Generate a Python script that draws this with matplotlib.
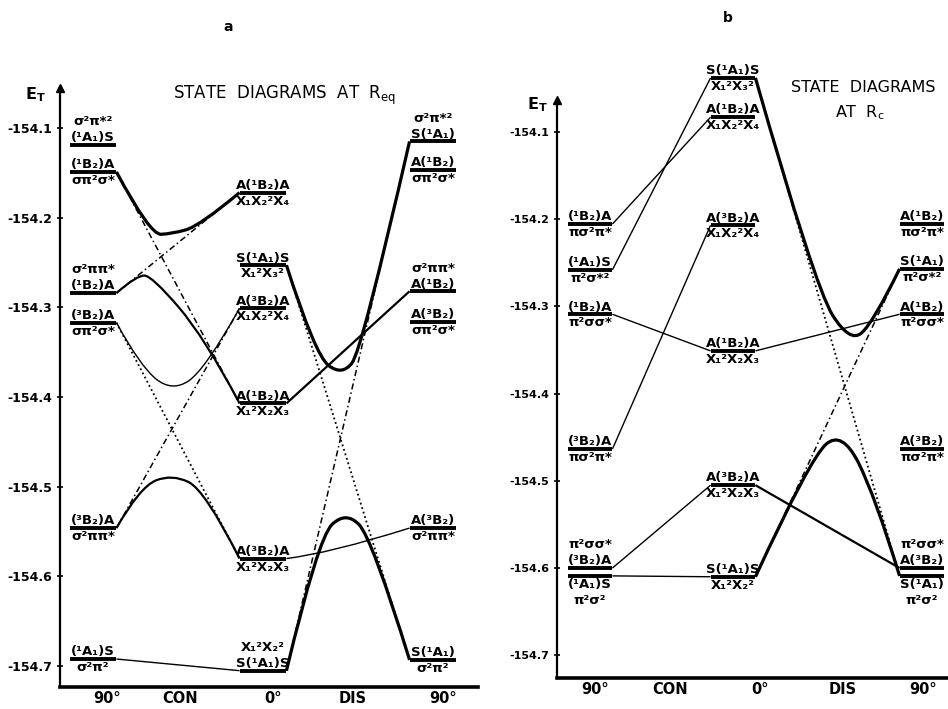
import matplotlib
matplotlib.use('Agg')
import matplotlib.pyplot as plt
from matplotlib.path import Path
from matplotlib.patches import PathPatch

plt.rcParams['font.family'] = ['DejaVu Sans']
plt.rcParams['mathtext.default'] = 'regular'

# ---------------- data: panel a (R_eq) ----------------
a_col_pos = [0.0, 1.0, 2.0]
a_left_E = [-154.119, -154.149, -154.284, -154.317, -154.546, -154.692]
a_mid_E = [-154.172, -154.253, -154.301, -154.407, -154.580, -154.705]
a_right_E = [-154.115, -154.147, -154.282, -154.316, -154.546, -154.693]

a_left_above = [['(¹A₁)S', 'σ²π*²'], ['(¹B₂)A'], ['(¹B₂)A', 'σ²ππ*'],
                ['(³B₂)A'], ['(³B₂)A'], ['(¹A₁)S']]
a_left_below = [[], ['σπ²σ*'], [], ['σπ²σ*'], ['σ²ππ*'], ['σ²π²']]
a_mid_above = [['A(¹B₂)A'], ['S(¹A₁)S'], ['A(³B₂)A'], ['A(¹B₂)A'],
               ['A(³B₂)A'], ['S(¹A₁)S', 'X₁²X₂²']]
a_mid_below = [['X₁X₂²X₄'], ['X₁²X₃²'], ['X₁X₂²X₄'], ['X₁²X₂X₃'], ['X₁²X₂X₃'], []]
a_right_above = [['S(¹A₁)', 'σ²π*²'], ['A(¹B₂)'], ['A(¹B₂)', 'σ²ππ*'],
                 ['A(³B₂)'], ['A(³B₂)'], ['S(¹A₁)']]
a_right_below = [[], ['σπ²σ*'], [], ['σπ²σ*'], ['σ²ππ*'], ['σ²π²']]

# connections: (from col, idx, to col, idx, waypoints (coord, E))
a_thick = [('L', 1, 'M', 0, [(0.335, -154.219), (0.465, -154.218), (0.629, -154.209)]),
           ('M', 1, 'R', 0, [(1.306, -154.353), (1.465, -154.3765), (1.582, -154.3475)]),
           ('M', 5, 'R', 5, [(1.324, -154.557), (1.488, -154.527), (1.641, -154.557)])]
a_medium = [('L', 2, 'M', 3, [(0.259, -154.264), (0.347, -154.265), (0.659, -154.334)]),
            ('L', 4, 'M', 4, [(0.2765, -154.500), (0.4647, -154.4857), (0.6588, -154.5036)]),
            ('M', 3, 'R', 2, [])]
a_thin = [('L', 3, 'M', 2, [(0.2765, -154.3653), (0.4647, -154.3943), (0.6588, -154.3698)]),
          ('L', 5, 'M', 5, []),
          ('M', 4, 'R', 4, [(1.394, -154.574)])]
a_dotted = [('L', 3, 'M', 4, []), ('M', 1, 'R', 5, [])]
a_dashdot = [('L', 1, 'M', 3, []), ('L', 2, 'M', 0, []), ('L', 4, 'M', 2, []), ('M', 5, 'R', 0, [])]

a_xtick_pos = [0.082, 0.512, 1.059, 1.529, 2.059]
a_xtick_lab = ['90°', 'CON', '0°', 'DIS', '90°']

# ---------------- data: panel b (R_c) ----------------
b_col_pos = [0.0, 1.0, 2.3217]
b_left_E = [-154.2055, -154.258, -154.309, -154.4635, -154.600, -154.609]
b_mid_E = [-154.038, -154.083, -154.207, -154.351, -154.505, -154.610]
b_right_E = [-154.2055, -154.257, -154.309, -154.4635, -154.600, -154.609]

b_left_above = [['(¹B₂)A'], ['(¹A₁)S'], ['(¹B₂)A'], ['(³B₂)A'], ['(³B₂)A', 'π²σσ*'], []]
b_left_below = [['πσ²π*'], ['π²σ*²'], ['π²σσ*'], ['πσ²π*'], [], ['(¹A₁)S', 'π²σ²']]
b_mid_above = [['S(¹A₁)S'], ['A(¹B₂)A'], ['A(³B₂)A'], ['A(¹B₂)A'], ['A(³B₂)A'], ['S(¹A₁)S']]
b_mid_below = [['X₁²X₃²'], ['X₁X₂²X₄'], ['X₁X₂²X₄'], ['X₁²X₂X₃'], ['X₁²X₂X₃'], ['X₁²X₂²']]
b_right_above = [['A(¹B₂)'], ['S(¹A₁)'], ['A(¹B₂)'], ['A(³B₂)'], ['A(³B₂)', 'π²σσ*'], []]
b_right_below = [['πσ²π*'], ['π²σ*²'], ['π²σσ*'], ['πσ²π*'], [], ['S(¹A₁)', 'π²σ²']]

b_thick = [('M', 0, 'R', 1, [(1.5734, -154.2778), (1.8182, -154.342), (1.979, -154.319)]),
           ('M', 5, 'R', 5, [(1.5385, -154.4744), (1.7622, -154.4417), (1.993, -154.517)])]
b_medium = [('M', 4, 'R', 4, [])]
b_thin = [('L', 0, 'M', 1, []), ('L', 1, 'M', 0, []), ('L', 2, 'M', 3, []),
          ('L', 3, 'M', 2, []), ('L', 4, 'M', 4, []), ('L', 5, 'M', 5, []),
          ('M', 3, 'R', 2, [])]
b_dotted = [('M', 0, 'R', 5, [])]
b_dashdot = [('M', 5, 'R', 1, [])]

b_xtick_pos = [0.035, 0.559, 1.189, 1.769, 2.329]
b_xtick_lab = ['90°', 'CON', '0°', 'DIS', '90°']

y_ticks = [-154.1, -154.2, -154.3, -154.4, -154.5, -154.6, -154.7]
y_tick_lab = ['-154.1', '-154.2', '-154.3', '-154.4', '-154.5', '-154.6', '-154.7']

# ---------------- drawing ----------------
fig = plt.figure(figsize=(9.48, 7.09), dpi=100)
fig.patch.set_facecolor('white')


def spline_path(pts):
    verts = [pts[0]]
    codes = [Path.MOVETO]
    if len(pts) == 2:
        verts.append(pts[1]); codes.append(Path.LINETO)
        return Path(verts, codes)
    for k in range(1, len(pts) - 1):
        ctrl = pts[k]
        if k < len(pts) - 2:
            nxt = ((pts[k][0] + pts[k + 1][0]) / 2, (pts[k][1] + pts[k + 1][1]) / 2)
        else:
            nxt = pts[-1]
        verts += [ctrl, nxt]
        codes += [Path.CURVE3, Path.CURVE3]
    return Path(verts, codes)


LAB_FS = 9.5
STACK = 11.5


def draw_panel(ax, col_pos, hw, levels, above, below, conns):
    cidx = {'L': 0, 'M': 1, 'R': 2}
    for ci, (E_list, ab_list, be_list) in enumerate(zip(levels, above, below)):
        c = col_pos[ci]
        for E, ab, be in zip(E_list, ab_list, be_list):
            ax.plot([c - hw, c + hw], [E, E], color='k', lw=2.8, solid_capstyle='butt',
                    zorder=4, clip_on=False)
            for k, t in enumerate(ab):
                ax.annotate(t, xy=(c, E), xytext=(0, 0.5 + STACK * k), textcoords='offset points',
                            ha='center', va='bottom', fontsize=LAB_FS, fontweight='bold',
                            annotation_clip=False, zorder=6)
            for k, t in enumerate(be):
                ax.annotate(t, xy=(c, E), xytext=(0, -1.5 - STACK * k), textcoords='offset points',
                            ha='center', va='top', fontsize=LAB_FS, fontweight='bold',
                            annotation_clip=False, zorder=6)
    for clist, style in conns:
        for (c0, i0, c1, i1, wps) in clist:
            x0 = col_pos[cidx[c0]] + hw
            y0 = levels[cidx[c0]][i0]
            x1 = col_pos[cidx[c1]] - hw
            y1 = levels[cidx[c1]][i1]
            pts = [(x0, y0)] + list(wps) + [(x1, y1)]
            patch = PathPatch(spline_path(pts), fill=False, edgecolor='k', capstyle='butt',
                              clip_on=False, **style)
            ax.add_patch(patch)


style_thick = dict(lw=2.3, zorder=3)
style_medium = dict(lw=1.6, zorder=3)
style_thin = dict(lw=1.0, zorder=3)
style_dot = dict(lw=1.3, linestyle=(0, (1, 1.6)), zorder=2)
style_dashdot = dict(lw=1.1, linestyle=(0, (4, 2, 1, 2)), zorder=2)


def setup_axes(ax, xlim, ylim, xt_pos, xt_lab, yfs, xfs):
    ax.set_xlim(*xlim)
    ax.set_ylim(*ylim)
    for s in ['top', 'right']:
        ax.spines[s].set_visible(False)
    ax.spines['left'].set_linewidth(1.6)
    ax.spines['bottom'].set_linewidth(2.6)
    ax.set_xticks(xt_pos)
    ax.set_xticklabels(xt_lab, fontsize=xfs, fontweight='bold')
    ax.tick_params(axis='x', length=0, pad=3)
    ax.set_yticks(y_ticks)
    ax.set_yticklabels(y_tick_lab, fontsize=yfs, fontweight='bold')
    ax.tick_params(axis='y', direction='inout', length=5, width=1.2, pad=3)
    ax.plot([0], [1], marker='^', ms=6, color='k', transform=ax.transAxes, clip_on=False)
    ax.set_facecolor('none')


# panel a
axa = fig.add_axes([60 / 948, 22 / 709, 418 / 948, 599 / 709])
setup_axes(axa, (-0.1941, 2.2647), (-154.7232, -154.0554), a_xtick_pos, a_xtick_lab, 9, 10.5)
draw_panel(axa, a_col_pos, 0.138, [a_left_E, a_mid_E, a_right_E],
           [a_left_above, a_mid_above, a_right_above],
           [a_left_below, a_mid_below, a_right_below],
           [(a_dotted, style_dot), (a_dashdot, style_dashdot), (a_thin, style_thin),
            (a_medium, style_medium), (a_thick, style_thick)])

# panel b
axb = fig.add_axes([557 / 948, 31 / 709, 391 / 948, 578 / 709])
setup_axes(axb, (-0.2308, 2.5035), (-154.7261, -154.0633), b_xtick_pos, b_xtick_lab, 8, 10.5)
draw_panel(axb, b_col_pos, 0.157, [b_left_E, b_mid_E, b_right_E],
           [b_left_above, b_mid_above, b_right_above],
           [b_left_below, b_mid_below, b_right_below],
           [(b_dotted, style_dot), (b_dashdot, style_dashdot), (b_thin, style_thin),
            (b_medium, style_medium), (b_thick, style_thick)])

# titles and annotations
fig.text(228 / 948, 1 - 27 / 709, 'a', fontsize=10, fontweight='bold', ha='center', va='center')
fig.text(728 / 948, 1 - 18 / 709, 'b', fontsize=10, fontweight='bold', ha='center', va='center')
fig.text(285 / 948, 1 - 95 / 709, r'STATE  DIAGRAMS  AT  R$_{eq}$', fontsize=12,
         ha='center', va='center')
fig.text(863 / 948, 1 - 88 / 709, 'STATE  DIAGRAMS', fontsize=11.5, ha='center', va='center')
fig.text(860 / 948, 1 - 113 / 709, r'AT  R$_c$', fontsize=11.5, ha='center', va='center')
fig.text(35 / 948, 1 - 95 / 709, r'E$_T$', fontsize=11.5, fontweight='bold', ha='center', va='center')
fig.text(537 / 948, 1 - 105 / 709, r'E$_T$', fontsize=11.5, fontweight='bold', ha='center', va='center')

fig.savefig('out.png', dpi=100, facecolor='white')
